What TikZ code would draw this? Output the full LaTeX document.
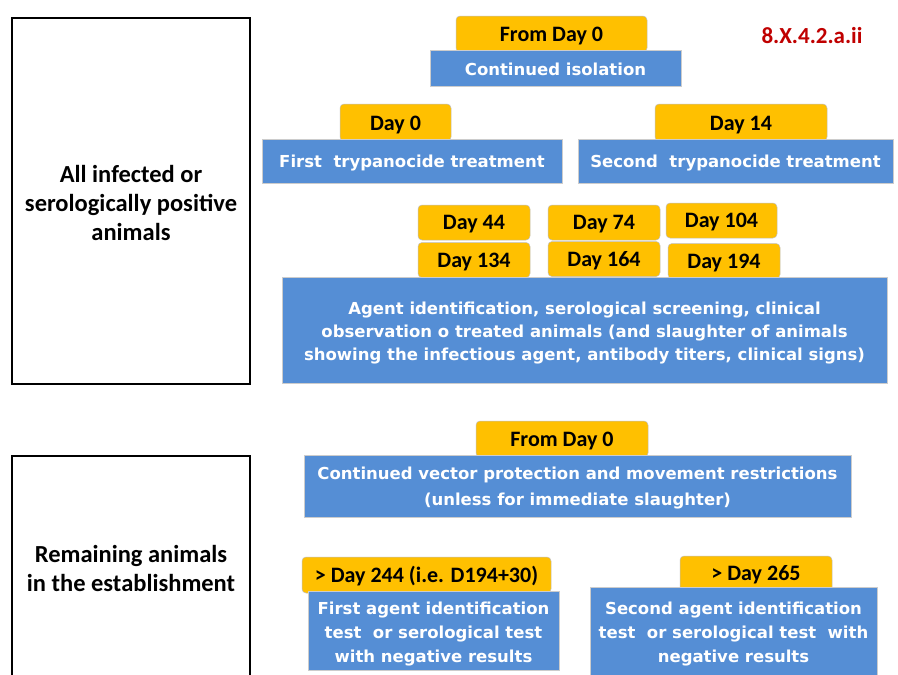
\documentclass[tikz,border=0pt]{standalone}
\usepackage{fontspec}
\setmainfont{Carlito}
\newfontfamily\bluefont{DejaVu Sans}
\definecolor{bfill}{HTML}{558ED5}
\definecolor{yfill}{HTML}{FFC000}
\definecolor{redlbl}{HTML}{C00000}
\begin{document}
\begin{tikzpicture}[x=1pt,y=-1pt,
  ybox/.style={fill=yfill, draw=black!25, line width=0.5pt, rounded corners=4pt, inner sep=0pt,
    font=\fontsize{22}{24}\selectfont\bfseries, text=black, text height=14pt, text depth=0pt},
  ytxt/.style={font=\fontsize{22}{24}\selectfont\bfseries, text=black, inner sep=0pt,
    text height=14pt, text depth=0pt},
  bbox/.style={fill=bfill, draw=black!20, line width=0.6pt, inner sep=0pt},
  btxt/.style={inner sep=0pt, align=center, text=white,
    font=\bluefont\bfseries\fontsize{16.5}{23}\selectfont},
  lbox/.style={draw=black, line width=2.8pt, fill=white, inner sep=0pt, align=center,
    font=\fontsize{24.5}{29}\selectfont\bfseries}]
\useasboundingbox (0,0) rectangle (898,675);
\fill[white] (0,0) rectangle (898,675);

% left boxes
\node[lbox, minimum width=238pt, minimum height=366pt] (all) at (131,201) {};
\node[font=\fontsize{24.5}{29}\selectfont\bfseries, align=center] (alltxt) at (131,202.5)
  {All infected or\\serologically positive\\animals};
\node[lbox, minimum width=238pt, minimum height=226pt] (rem) at (131,569) {};
\node[font=\fontsize{24.5}{29}\selectfont\bfseries, align=center] (remtxt) at (131,568)
  {Remaining animals\\in the establishment};

% reference label
\node[text=redlbl, font=\fontsize{23}{24}\selectfont\bfseries] (ref) at (812,36) {8.X.4.2.a.ii};

% top: isolation
\node[ybox, minimum width=191pt, minimum height=36pt] (fd0a) at (551.5,34) {};
\node[ytxt] (fd0at) at (551.5,34) {From Day 0};
\node[bbox, minimum width=251pt, minimum height=36pt] (iso) at (555.5,68) {};
\node[btxt] (isot) at (555.5,69) {Continued isolation};

% treatments
\node[ybox, minimum width=111pt, minimum height=37pt] (d0) at (395.5,122.5) {};
\node[ytxt] (d0t) at (395.5,123) {Day 0};
\node[bbox, minimum width=300pt, minimum height=44pt] (t1) at (412,161) {};
\node[btxt] (t1t) at (412,163.5) {First\ \ trypanocide treatment};
\node[ybox, minimum width=172pt, minimum height=37pt] (d14) at (741,122.5) {};
\node[ytxt] (d14t) at (741,123) {Day 14};
\node[bbox, minimum width=315pt, minimum height=44pt] (t2) at (735.5,161) {};
\node[btxt] (t2t) at (735.5,163.5) {Second\ \ trypanocide treatment};

% day series
\node[ybox, minimum width=112pt, minimum height=35pt] (d44) at (474,222.5) {Day 44};
\node[ybox, minimum width=112pt, minimum height=35pt] (d74) at (604,222.5) {Day 74};
\node[ybox, minimum width=111pt, minimum height=35pt] (d104) at (721.5,220.5) {Day 104};
\node[ybox, minimum width=112pt, minimum height=35pt] (d134) at (474,260) {Day 134};
\node[ybox, minimum width=112pt, minimum height=35pt] (d164) at (604,259) {Day 164};
\node[ybox, minimum width=112pt, minimum height=35pt] (d194) at (724,261) {Day 194};
\node[bbox, minimum width=605pt, minimum height=106pt] (agent) at (584.5,330) {};
\node[btxt] (agentt) at (584.5,333)
  {Agent identification, serological screening, clinical\\observation o treated animals (and slaughter of animals\\showing the infectious agent, antibody titers, clinical signs)};

% lower part
\node[ybox, minimum width=172pt, minimum height=36pt] (fd0b) at (562,439) {};
\node[ytxt] (fd0bt) at (562,439) {From Day 0};
\node[bbox, minimum width=547pt, minimum height=62pt] (vec) at (577.5,486) {};
\node[btxt, font=\bluefont\bfseries\fontsize{16.5}{26}\selectfont] (vect) at (577.5,488)
  {Continued vector protection and movement restrictions\\(unless for immediate slaughter)};

\node[ybox, minimum width=249pt, minimum height=36pt] (d244) at (426.5,575) {};
\node[ytxt] (d244t) at (426.5,575) {> Day 244 (i.e. D194+30)};
\node[bbox, minimum width=251pt, minimum height=79pt] (test1) at (433.5,630.5) {};
\node[btxt, font=\bluefont\bfseries\fontsize{16.5}{24}\selectfont] (test1t) at (433.5,634)
  {First agent identification\\test\ \ or serological test\\with negative results};

\node[ybox, minimum width=152pt, minimum height=35pt] (d265) at (756,573.5) {};
\node[ytxt] (d265t) at (756,573) {> Day 265};
\node[bbox, minimum width=287pt, minimum height=88pt] (test2) at (733.5,631) {};
\node[btxt, font=\bluefont\bfseries\fontsize{16.5}{24}\selectfont] (test2t) at (733.5,634)
  {Second agent identification\\test\ \ or serological test\ \ with\\negative results};
\end{tikzpicture}
\end{document}
